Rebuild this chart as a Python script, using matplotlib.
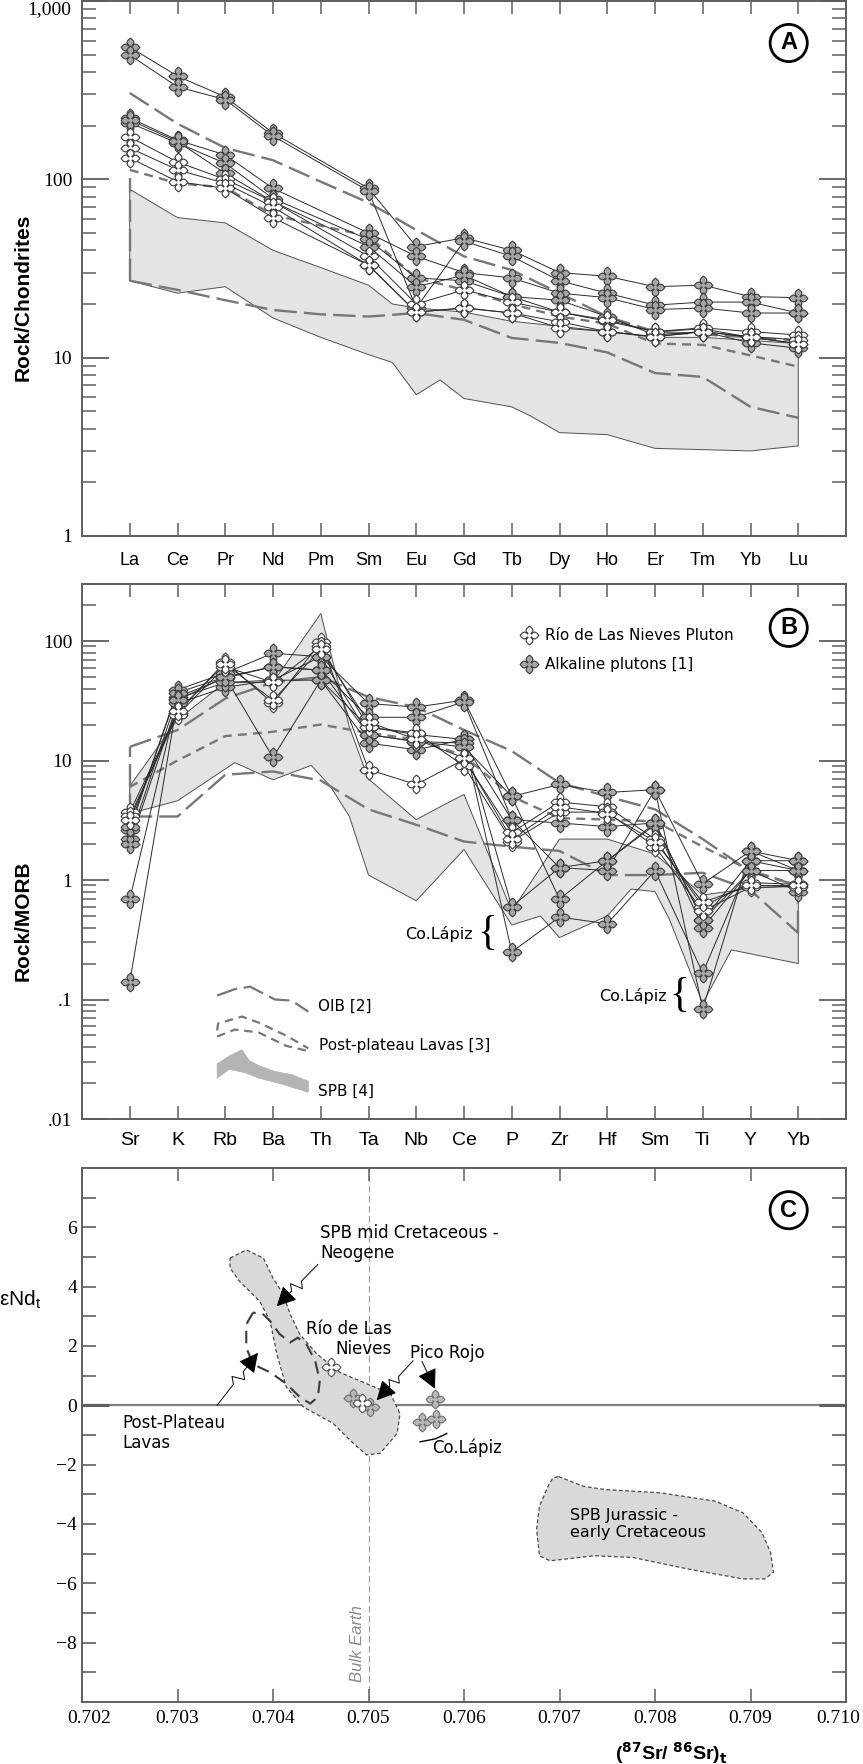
import numpy as np
import matplotlib
matplotlib.use("Agg")
import matplotlib.pyplot as plt
from matplotlib.path import Path
from matplotlib.lines import Line2D
from matplotlib.transforms import ScaledTranslation
from matplotlib.ticker import (FixedLocator, FixedFormatter, LogLocator,
                               NullFormatter, MultipleLocator)

nan = np.nan

# ---------------- panel A: REE normalised to chondrite ----------------
ree = ['La', 'Ce', 'Pr', 'Nd', 'Pm', 'Sm', 'Eu', 'Gd', 'Tb', 'Dy', 'Ho', 'Er', 'Tm', 'Yb', 'Lu']
rln_ree = [
    [173, 125, 100, 75, nan, 37, 20, 24, 20.5, 18, 16.3, 14, 14.7, 14, 13.4],
    [150, 113, 95, 70, nan, 33, 18, 19, 17.8, 15.9, 14, 13.1, 14, 13.1, 12.6],
    [132, 97, 89, 61, nan, 33, 18, 19, 17.8, 14.7, 14, 13.1, 14, 13, 12],
]
alk_ree = [
    [552, 379, 290, 182, nan, 89, 42, 47, 40, 30, 28.6, 25, 25.5, 22, 21.7],
    [498, 330, 280, 175, nan, 86, 19, 45, 37, 27, 23, 19.7, 20.5, 20.5, 17.8],
    [221, 166, 137, 89, nan, 50, 37, 30, 28, 23, 21.7, 18.6, 19, 17.8, 17.8],
    [207, 160, 123, 78, nan, 46, 28, 27, 22, 21, 17, 13.4, 14, 12.1, 11.3],
    [215, 163, 108, 75, nan, 42, 25, 29, 22, 18, 16, 14, 14.5, 13, 12],
]
ree_oib_hi = [305, 205, 150, 128, 97, 74, 52, 37, 31, 23, 17, 14, 13.5, 13, 12.5]
ree_ppl = [113, 95, 90, 63, 55, 48, 28, 24, 20, 17, 15.5, 12, 11.8, 10.3, 8.9]
ree_oib_lo = [27, 24, 21, 18.5, 17.5, 17, 17.8, 16.3, 12.9, 12.1, 10.7, 8.2, 7.8, 5.3, 4.6]
ree_field_up_x = [0, 1, 2, 3, 4, 5, 5.5, 6, 7, 8, 9, 10, 11, 12, 13, 14]
ree_field_up = [88, 61, 57, 40, 32, 25.5, 20, 19, 18, 16, 15, 14, 13, 13, 12.5, 12]
ree_field_lo_x = [0, 1, 2, 3, 4, 5, 5.5, 6, 6.5, 7, 8, 8.4, 9, 10, 11, 12, 13, 14]
ree_field_lo = [27, 23, 25, 16.7, 13, 10.4, 9.4, 6.2, 7.5, 5.9, 5.3, 4.7, 3.8, 3.7, 3.1, 3.05, 3.0, 3.2]

# ---------------- panel B: trace elements normalised to MORB ----------------
te = ['Sr', 'K', 'Rb', 'Ba', 'Th', 'Ta', 'Nb', 'Ce', 'P', 'Zr', 'Hf', 'Sm', 'Ti', 'Y', 'Yb']
rln_te = [
    [3.7, 25, 67, 30, 98, 8.4, 6.3, 10.2, 2.5, 4.5, 4.1, 2.2, 0.60, 0.95, 0.92],
    [3.4, 24, 61, 45, 90, 19, 17, 9.0, 2.1, 3.7, 3.7, 1.9, 0.55, 0.87, 0.88],
    [3.2, 26, 64, 32, 85, 21, 15, 10.5, 2.2, 4.1, 3.6, 2.1, 0.65, 0.9, 0.9],
]
alk_te = [
    [2.6, 39, 54, 79, 74, 30, 28, 32, 5.0, 6.3, 5.4, 5.7, 0.93, 1.75, 1.45],
    [2.2, 34, 49, 61, 57, 23, 23, 31, 3.2, 3.0, 2.8, 3.0, 0.46, 1.45, 1.2],
    [2.0, 30, 41, 47, 47, 14, 12.3, 15, 0.6, 1.27, 1.45, 2.9, 0.40, 1.2, 1.2],
    [2.8, 37, 50, 10.6, 47, 19, 16.5, 15, 0.25, 0.49, 0.43, 1.2, 0.167, 1.45, 1.45],
    [0.69, 33, 45, 47, 74, 16.5, 14.4, 14, 3.2, 1.27, 1.2, 5.7, 0.083, 1.75, 1.2],
    [0.14, 32, 50, 61, 57, 16.5, 14.4, 13, 5.0, 0.69, 1.45, 3.0, 0.46, 1.2, 0.8],
]
te_oib_hi = [13, 18, 33, 45, 50, 34, 28, 18, 12, 6.5, 5.0, 3.9, 2.2, 1.17, 0.9]
te_ppl = [6, 10, 16, 17.4, 20, 17, 15, 11, 5, 3.3, 3.2, 3.1, 1.9, 1.2, 0.9]
te_oib_lo = [3.4, 3.4, 7.6, 8.1, 6.8, 3.9, 2.9, 2.1, 1.9, 1.75, 1.1, 1.1, 1.15, 0.82, 0.36]
te_field_up_x = [0, 1, 2, 3, 4, 4.6, 5, 6, 6.5, 7, 8, 9, 10, 11, 12, 13, 14]
te_field_up = [6.1, 22, 45, 45, 170, 19, 7, 3.2, 4.1, 5.2, 0.55, 2.2, 2.2, 1.65, 0.75, 0.85, 0.9]
te_field_lo_x = [0, 1, 2.2, 3, 3.8, 4.2, 4.6, 5, 6, 7, 8, 8.6, 9, 10, 10.5, 11, 11.3, 12, 12.6, 14]
te_field_lo = [3.6, 4.6, 9.6, 6.9, 9.1, 6.1, 3.4, 1.1, 0.67, 1.8, 0.42, 0.5, 0.33, 0.5, 0.84, 0.8, 0.47, 0.093, 0.26, 0.2]

# little key glyphs drawn inside panel B
oib_key_x = [1.83, 2.2, 2.52, 3.04, 3.39, 3.74]
oib_key = [0.108, 0.122, 0.128, 0.10, 0.098, 0.079]
ppl_key_hi_x = [1.83, 1.85, 2.35, 2.7, 3.27, 3.74]
ppl_key_hi = [0.055, 0.063, 0.072, 0.064, 0.050, 0.039]
ppl_key_lo_x = [1.83, 2.2, 2.7, 3.27, 3.74]
ppl_key_lo = [0.049, 0.056, 0.053, 0.041, 0.037]
spb_key_hi_x = [1.83, 2.1, 2.35, 2.5, 2.7, 3.04, 3.4, 3.74]
spb_key_hi = [0.0290, 0.034, 0.038, 0.031, 0.028, 0.025, 0.0235, 0.0207]
spb_key_lo_x = [1.83, 2.08, 2.4, 2.7, 3.2, 3.74]
spb_key_lo = [0.0219, 0.026, 0.0245, 0.022, 0.0195, 0.0167]

# ---------------- panel C: Sr-Nd isotopes ----------------
rln_sr = [0.70461, 0.70493]
rln_nd = [1.28, 0.08]
alk_sr = [0.70484, 0.70502, 0.70570, 0.70556, 0.70571]
alk_nd = [0.25, -0.06, 0.22, -0.56, -0.45]

spb_mid_sr = [0.70355, 0.70372, 0.70390, 0.70400, 0.70411, 0.70418, 0.70428, 0.70446,
              0.70470, 0.70498, 0.70523, 0.70533, 0.70530, 0.70512, 0.70498, 0.70484,
              0.70463, 0.70432, 0.70414, 0.70404, 0.70397, 0.70386, 0.70365, 0.70355]
spb_mid_nd = [4.96, 5.24, 4.96, 4.29, 3.73, 3.07, 2.40, 1.73, 1.11, 0.73, 0.39, -0.28,
              -0.95, -1.62, -1.67, -1.28, -0.61, -0.06, 0.61, 1.73, 2.84, 3.51, 4.18, 4.63]
ppl_sr = [0.70379, 0.70372, 0.70372, 0.70379, 0.70397, 0.70414, 0.70428, 0.70439, 0.70447,
          0.70449, 0.70444, 0.70435, 0.70426, 0.70418, 0.70407, 0.70397, 0.70388]
ppl_nd = [3.12, 2.73, 1.95, 1.39, 1.11, 0.73, 0.28, 0.06, 0.28, 0.84, 1.51, 2.06, 2.28,
          2.12, 2.40, 2.84, 3.12]
jur_sr = [0.70699, 0.70725, 0.70748, 0.70806, 0.70863, 0.70892, 0.70912, 0.70921, 0.70924,
          0.70915, 0.70892, 0.70835, 0.70777, 0.70737, 0.70690, 0.70679, 0.70676, 0.70679,
          0.70688, 0.70693]
jur_nd = [-2.40, -2.73, -2.84, -2.95, -3.23, -3.62, -4.29, -4.96, -5.63, -5.85, -5.85, -5.52,
          -5.13, -5.07, -5.24, -5.07, -4.18, -3.40, -2.73, -2.45]
bulk_earth_sr = 0.705

# ---------------- styles ----------------
FRAME = '#5e5e5e'
DASH_C = '#777777'
FIELD_C = '#e4e4e4'
GRAY_MK = '#a6a6a6'
LONG = (0, (9.5, 3.0))
SHORT = (0, (3.8, 2.6))
SERIF = 'Liberation Serif'
SANS = 'Liberation Sans'


def cross_path():
    # four rounded lobes with pointed tips
    arm = [(0.22, -0.15), (0.36, -0.32), (0.57, -0.37), (0.77, -0.27), (0.91, -0.11),
           (1.0, 0.0), (0.91, 0.11), (0.77, 0.27), (0.57, 0.37), (0.36, 0.32), (0.22, 0.15)]
    verts = []
    for k in range(4):
        c, s = np.cos(k * np.pi / 2), np.sin(k * np.pi / 2)
        verts += [(x * c - y * s, x * s + y * c) for x, y in arm]
    verts.append(verts[0])
    return Path(verts, closed=True)


CROSS = cross_path()


def plot_samples(ax, rows, face, edge='#3c3c3c'):
    for row in rows:
        y = np.asarray(row, float)
        x = np.arange(len(y))
        m = ~np.isnan(y)
        ax.plot(x[m], y[m], color='#2a2a2a', lw=0.7, zorder=4)
    for row in rows:
        y = np.asarray(row, float)
        x = np.arange(len(y))
        m = ~np.isnan(y)
        ax.plot(x[m], y[m], ls='none', marker=CROSS, ms=13.5, mfc=face, mec=edge,
                mew=0.8, zorder=5)


def field(ax, ux, uy, lx, ly, **kw):
    xs = list(ux) + list(lx)[::-1]
    ys = list(uy) + list(ly)[::-1]
    ax.fill(xs, ys, **kw)


def style_frame(ax):
    for sp in ax.spines.values():
        sp.set_color(FRAME)
        sp.set_linewidth(1.4)


def style_log(ax, cats, ymin, ymax, majors, labels, xfs, xpad):
    ax.set_yscale('log')
    ax.set_ylim(ymin, ymax)
    ax.set_xlim(-1, len(cats))
    ax.yaxis.set_major_locator(FixedLocator(majors))
    ax.yaxis.set_major_formatter(FixedFormatter(labels))
    ax.yaxis.set_minor_locator(LogLocator(base=10, subs=np.arange(2, 10), numticks=30))
    ax.yaxis.set_minor_formatter(NullFormatter())
    ax.set_xticks(range(len(cats)))
    ax.set_xticklabels(cats, fontsize=xfs, family=SANS)
    ax.tick_params(axis='y', which='major', direction='in', length=19.5, width=1.3,
                   left=True, right=True, color=FRAME, labelsize=14, pad=7)
    ax.tick_params(axis='y', which='minor', direction='in', length=10, width=1.1,
                   left=True, right=True, color=FRAME)
    ax.tick_params(axis='x', direction='in', length=9.5, width=1.1, top=True,
                   bottom=True, color=FRAME, pad=xpad)
    for t in ax.get_yticklabels():
        t.set_family(SERIF)
    style_frame(ax)


def tag(ax, letter, y):
    ax.text(0.925, y, letter, transform=ax.transAxes, ha='center', va='center',
            fontsize=17, fontweight='bold', family=SANS, zorder=10,
            bbox=dict(boxstyle='circle,pad=0.3', fc='white', ec='black', lw=2))


def bolt(ax, start, end, amp=6.0):
    T = ax.transData
    p0 = np.array(T.transform(start))
    p1 = np.array(T.transform(end))
    d = p1 - p0
    L = np.hypot(*d)
    u = d / L
    nrm = np.array([-u[1], u[0]])
    ts = [0.0, 0.40, 0.48, 0.56, 0.64, 1.0]
    off = [0, 0, amp, -amp, 0, 0]
    pts = np.array([p0 + u * L * t + nrm * o for t, o in zip(ts, off)])
    dp = T.inverted().transform(pts)
    ax.plot(dp[:-1, 0], dp[:-1, 1], color='black', lw=0.7, zorder=6)
    ax.annotate('', xy=tuple(dp[-1]), xytext=tuple(dp[-2]),
                arrowprops=dict(arrowstyle='-|>,head_length=0.55,head_width=0.28',
                                color='black', lw=0.7, shrinkA=0, shrinkB=0,
                                mutation_scale=22), zorder=6)


plt.rcParams['font.family'] = ['DejaVu Sans']

fig = plt.figure(figsize=(8.63, 17.64), dpi=100)
W, H = 863.0, 1764.0
axA = fig.add_axes([82 / W, 1 - 536 / H, 764 / W, 535 / H])
axB = fig.add_axes([82 / W, 1 - 1119 / H, 764 / W, 535 / H])
axC = fig.add_axes([82 / W, 1 - 1702 / H, 764 / W, 534 / H])

# ================= panel A =================
style_log(axA, ree, 1, 1000, [1, 10, 100, 1000], ['1', '10', '100', ''], 13, 11.5)
axA.text(-0.0135, 1.0, '1,000', transform=axA.transAxes, ha='right', va='top',
         fontsize=14, family=SERIF)
field(axA, ree_field_up_x, ree_field_up, ree_field_lo_x, ree_field_lo,
      fc=FIELD_C, ec='#505050', lw=0.7, zorder=1)
xr = np.arange(len(ree))
axA.plot(xr, ree_oib_hi, color=DASH_C, lw=1.7, ls=LONG, zorder=2)
axA.plot(xr, ree_oib_lo, color=DASH_C, lw=1.7, ls=LONG, zorder=2)
axA.plot(xr, ree_ppl, color=DASH_C, lw=1.7, ls=SHORT, zorder=2)
axA.vlines(0, ree_oib_lo[0], ree_ppl[0] * 0.9, color=DASH_C, lw=1.7, linestyles=LONG, zorder=2)
plot_samples(axA, alk_ree, GRAY_MK)
plot_samples(axA, rln_ree, 'white')
axA.set_ylabel('Rock/Chondrites', fontsize=15, fontweight='bold', family=SANS)
axA.yaxis.set_label_coords(-0.064, 0.447)
tag(axA, 'A', 0.9215)

# ================= panel B =================
style_log(axB, te, 0.01, 300, [0.01, 0.1, 1, 10, 100], ['.01', '.1', '1', '10', '100'], 14, 9.5)
field(axB, te_field_up_x, te_field_up, te_field_lo_x, te_field_lo,
      fc=FIELD_C, ec='#505050', lw=0.7, zorder=1)
xt = np.arange(len(te))
axB.plot(xt, te_oib_hi, color=DASH_C, lw=1.7, ls=LONG, zorder=2)
axB.plot(xt, te_oib_lo, color=DASH_C, lw=1.7, ls=LONG, zorder=2)
axB.plot(xt, te_ppl, color=DASH_C, lw=1.7, ls=SHORT, zorder=2)
axB.vlines([xt[0], xt[-1]], [te_oib_lo[0], te_oib_lo[-1]], [te_oib_hi[0], te_oib_hi[-1]],
           color=DASH_C, lw=1.7, linestyles=LONG, zorder=2)
plot_samples(axB, alk_te, GRAY_MK)
plot_samples(axB, rln_te, 'white')

# key glyphs
axB.plot(oib_key_x, oib_key, color=DASH_C, lw=1.6, ls=LONG)
axB.plot(ppl_key_hi_x, ppl_key_hi, color=DASH_C, lw=1.6, ls=SHORT)
axB.plot(ppl_key_lo_x, ppl_key_lo, color=DASH_C, lw=1.6, ls=SHORT)
field(axB, spb_key_hi_x, spb_key_hi, spb_key_lo_x, spb_key_lo, fc='#b4b4b4', ec='#b4b4b4', lw=0.5)
axB.text(3.94, oib_key[-1] * 1.12, 'OIB [2]', fontsize=11, va='center')
axB.text(3.96, ppl_key_lo[-1] * 1.12, 'Post-plateau Lavas [3]', fontsize=11, va='center')
axB.text(3.94, spb_key_lo[-1] * 1.02, 'SPB [4]', fontsize=11, va='center')

axB.text(7.19, 0.355, 'Co.Lápiz', fontsize=11.5, ha='right', va='center')
axB.text(7.48, 0.355, '{', fontsize=30, family=SERIF, ha='center', va='center')
axB.text(11.24, 0.108, 'Co.Lápiz', fontsize=11.5, ha='right', va='center')
axB.text(11.51, 0.108, '{', fontsize=30, family=SERIF, ha='center', va='center')

handles = [Line2D([], [], ls='none', marker=CROSS, ms=13.5, mfc='white', mec='#3c3c3c', mew=0.8),
           Line2D([], [], ls='none', marker=CROSS, ms=13.5, mfc=GRAY_MK, mec='#3c3c3c', mew=0.8)]
axB.legend(handles, ['Río de Las Nieves Pluton', 'Alkaline plutons [1]'], loc='upper left',
           bbox_to_anchor=(0.5746, 0.918), frameon=False, fontsize=11, handlelength=1.0,
           handletextpad=0.55, labelspacing=0.95, borderpad=0, borderaxespad=0)
axB.set_ylabel('Rock/MORB', fontsize=15, fontweight='bold', family=SANS)
axB.yaxis.set_label_coords(-0.064, 0.37)
tag(axB, 'B', 0.918)

# ================= panel C =================
axC.set_xlim(0.702, 0.710)
axC.set_ylim(-10, 8)
axC.xaxis.set_major_locator(MultipleLocator(0.001))
axC.xaxis.set_major_formatter(plt.FuncFormatter(lambda v, p: f'{v:.3f}'))
axC.yaxis.set_major_locator(FixedLocator([-8, -6, -4, -2, 0, 2, 4, 6]))
axC.yaxis.set_minor_locator(FixedLocator([-9, -7, -5, -3, -1, 1, 3, 5, 7]))
axC.tick_params(axis='both', which='both', direction='in', color=FRAME, labelsize=14)
axC.tick_params(axis='x', length=9.5, width=1.1, top=True, bottom=True, pad=6)
axC.tick_params(axis='y', which='both', length=10, width=1.2, left=True, right=True, pad=3.5)
for t in axC.get_xticklabels() + axC.get_yticklabels():
    t.set_family(SERIF)
style_frame(axC)

axC.axhline(0, color='#808080', lw=1.6, zorder=1)
axC.axvline(bulk_earth_sr, color='#999999', lw=0.8, ls=(0, (6, 3)), zorder=1)
axC.text(bulk_earth_sr - 0.00011, -8.03, 'Bulk Earth', rotation=90, ha='center', va='center',
         fontsize=12, style='italic', color='#8a8a8a', family=SANS)

axC.fill(spb_mid_sr, spb_mid_nd, fc='#d9d9d9', ec='#4a4a4a', lw=0.9, ls=(0, (3, 2)), zorder=2)
axC.fill(jur_sr, jur_nd, fc='#d9d9d9', ec='#4a4a4a', lw=0.9, ls=(0, (3, 2)), zorder=2)
axC.fill(ppl_sr, ppl_nd, fill=False, ec='#3c3c3c', lw=1.5, ls=(0, (6, 3.5)), zorder=3)

axC.plot(alk_sr, alk_nd, ls='none', marker=CROSS, ms=13.5, mfc='#b8b8b8', mec='#707070',
         mew=0.8, zorder=5)
axC.plot(rln_sr, rln_nd, ls='none', marker=CROSS, ms=13.5, mfc='white', mec='#555555',
         mew=0.8, zorder=5)

axC.text(0.704492, 5.46, 'SPB mid Cretaceous -\nNeogene', fontsize=12, ha='left', va='center',
         linespacing=1.15)
axC.text(0.705243, 2.24, 'Río de Las\nNieves', fontsize=12, ha='right', va='center',
         multialignment='right', linespacing=1.15)
axC.text(0.705435, 1.77, 'Pico Rojo', fontsize=12, ha='left', va='center')
axC.text(0.702419, -0.94, 'Post-Plateau\nLavas', fontsize=12, ha='left', va='center',
         linespacing=1.15)
axC.text(0.705662, -1.44, 'Co.Lápiz', fontsize=12, ha='left', va='center')
axC.text(0.70711, -4.01, 'SPB Jurassic -\nearly Cretaceous', fontsize=11.5, ha='left',
         va='center', linespacing=1.2)
axC.plot([0.70554, 0.70570, 0.70582], [-1.23, -1.13, -0.95], color='black', lw=1.0)

bolt(axC, (0.704470, 4.75), (0.704039, 3.34))
bolt(axC, (0.703414, 0.0), (0.703843, 1.77))
bolt(axC, (0.705466, 1.50), (0.705086, 0.17), amp=5)
bolt(axC, (0.705560, 1.48), (0.705696, 0.56), amp=4)

axC.text(-0.081, 0.753, r'$\mathregular{\varepsilon}$Nd$_\mathregular{t}$', transform=axC.transAxes,
         fontsize=15, family=SANS, ha='center', va='center')
axC.text(0.771, -0.095, r'($^\mathbf{87}$Sr/ $^\mathbf{86}$Sr)$_\mathbf{t}$', transform=axC.transAxes,
         fontsize=14, fontweight='bold', family=SANS, ha='center', va='center')
tag(axC, 'C', 0.921)

# longer, heavier tick at eNd = 0
for loc, tk in zip(axC.yaxis.get_majorticklocs(), axC.yaxis.get_major_ticks()):
    if loc == 0:
        for ln in (tk.tick1line, tk.tick2line):
            ln.set_markersize(19.5)
            ln.set_markeredgewidth(2.2)

# end labels of the Sr axis sit a little inside, as in the original
xlocs = axC.xaxis.get_majorticklocs()
xticks = axC.xaxis.get_major_ticks()
for loc, tk in zip(xlocs, xticks):
    if abs(loc - 0.702) < 1e-7:
        tk.label1.set_transform(tk.label1.get_transform() +
                                ScaledTranslation(7 / 100, 0, fig.dpi_scale_trans))
    if abs(loc - 0.710) < 1e-7:
        tk.label1.set_transform(tk.label1.get_transform() +
                                ScaledTranslation(-8 / 100, 0, fig.dpi_scale_trans))

fig.savefig('out.png', dpi=100)
